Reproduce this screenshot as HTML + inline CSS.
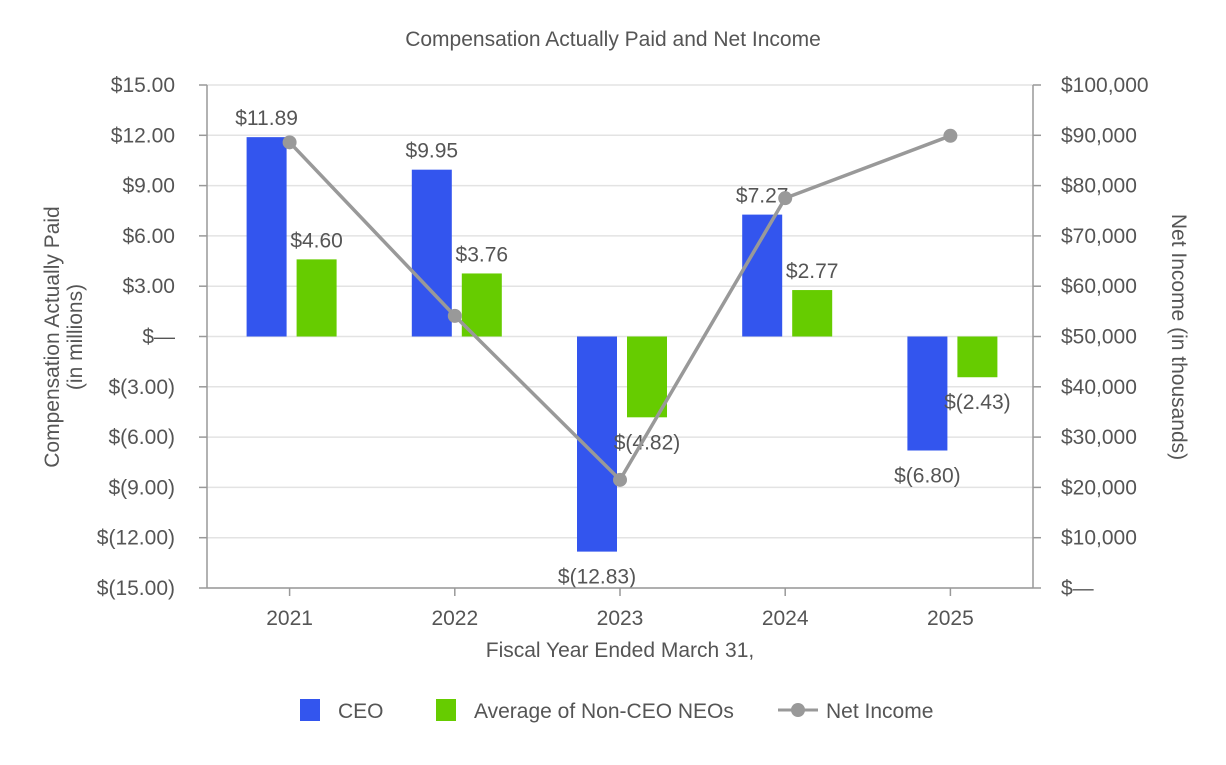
<!DOCTYPE html>
<html><head><meta charset="utf-8"><style>
body{margin:0;background:#fff;font-family:"Liberation Sans",Arial,sans-serif;}
svg text{font-family:"Liberation Sans",Arial,sans-serif;fill:#555;}
</style></head><body>
<svg id="chart" width="1226" height="760" xmlns="http://www.w3.org/2000/svg">
<text x="613" y="46" text-anchor="middle" font-size="21">Compensation Actually Paid and Net Income</text>
<g id="grid"></g><g id="bars"></g><g id="line"></g><g id="axes"></g>
<text transform="translate(59,337) rotate(-90)" text-anchor="middle" font-size="21">Compensation Actually Paid</text>
<text transform="translate(82,337) rotate(-90)" text-anchor="middle" font-size="21">(in millions)</text>
<text transform="translate(1172,337) rotate(90)" text-anchor="middle" font-size="21">Net Income (in thousands)</text>
<text x="620" y="657" text-anchor="middle" font-size="21">Fiscal Year Ended March 31,</text>
<g>
<rect x="300" y="699" width="20" height="22" fill="#3355ee"/>
<text x="338" y="718" font-size="21">CEO</text>
<rect x="436" y="699" width="20" height="22" fill="#66cc00"/>
<text x="474" y="718" font-size="21">Average of Non-CEO NEOs</text>
<line x1="778" y1="710" x2="818" y2="710" stroke="#999" stroke-width="3"/>
<circle cx="798" cy="710" r="7" fill="#999"/>
<text x="826" y="718" font-size="21">Net Income</text>
</g>
</svg>
<script>
const categories=["2021","2022","2023","2024","2025"];
const ceoValues=[11.89,9.95,-12.83,7.27,-6.80];
const neoValues=[4.60,3.76,-4.82,2.77,-2.43];
const netIncome=[88600,54100,21500,77500,89900];
const leftTicks=[15,12,9,6,3,0,-3,-6,-9,-12,-15];
const rightTicks=[100000,90000,80000,70000,60000,50000,40000,30000,20000,10000,0];
const NS="http://www.w3.org/2000/svg";
const L=207,R=1033,T=85,B=588;
const yL=v=>T+(15-v)/30*(B-T);
const yR=v=>B-v/100000*(B-T);
const band=(R-L)/categories.length;
const xC=i=>L+band*(i+0.5);
function mk(tag,attrs,parent,text){const e=document.createElementNS(NS,tag);for(const k in attrs)e.setAttribute(k,attrs[k]);if(text!==undefined)e.textContent=text;document.getElementById(parent).appendChild(e);return e;}
function money(v){if(v===0)return "$\u2014";const s=Math.abs(v).toFixed(2);return v<0?"$("+s+")":"$"+s;}
function moneyK(v){if(v===0)return "$\u2014";return "$"+v.toLocaleString("en-US");}
leftTicks.forEach(v=>{const y=yL(v);
 const g=mk("line",{x1:L,x2:R,y1:y,y2:y,stroke:"#e3e3e3","stroke-width":1.5},"grid");
 
 
 const t=mk("text",{x:175,y:y+7,"text-anchor":"end","font-size":21},"axes",money(v));
 
 
 const k=mk("line",{x1:L-8,x2:L,y1:y,y2:y,stroke:"#999","stroke-width":1.5},"axes");
 
 
});
rightTicks.forEach(v=>{const y=yR(v);
 const t=mk("text",{x:1061,y:y+7,"font-size":21},"axes",moneyK(v));
 
 
 const k=mk("line",{x1:R,x2:R+8,y1:y,y2:y,stroke:"#999","stroke-width":1.5},"axes");
 
 
});
[["x-axis",L,B,R,B],["y-axis",L,T,L,B],["y2-axis",R,T,R,B]].forEach(a=>{
 const l=mk("line",{x1:a[1],y1:a[2],x2:a[3],y2:a[4],stroke:"#999","stroke-width":1.5},"axes");
 
 
});
categories.forEach((c,i)=>{const x=xC(i);
 const t=mk("text",{x:x,y:625,"text-anchor":"middle","font-size":21},"axes",c);
 
 
 const k=mk("line",{x1:x,x2:x,y1:B,y2:B+8,stroke:"#999","stroke-width":1.5},"axes");
 
 
 [[ceoValues[i],-43,"#3355ee","bar-ceo-"+c],[neoValues[i],7,"#66cc00","bar-neo-"+c]].forEach(s=>{
  const v=s[0],y0=yL(0),y1=yL(v);
  const r=mk("rect",{x:x+s[1],y:Math.min(y0,y1),width:40,height:Math.abs(y1-y0),fill:s[2]},"bars");
  
  
  const ly=v>=0?y1-12:y1+32;
  const lt=mk("text",{x:x+s[1]+20,y:ly,"text-anchor":"middle","font-size":21},"bars",money(v));
  
  
 });
});
const pts=netIncome.map((v,i)=>xC(i)+","+yR(v)).join(" ");
const pl=mk("polyline",{points:pts,fill:"none",stroke:"#999","stroke-width":3.5},"line");


netIncome.forEach((v,i)=>{
 const c=mk("circle",{cx:xC(i),cy:yR(v),r:7,fill:"#999"},"line");
 
 
});
</script>
</body></html>
